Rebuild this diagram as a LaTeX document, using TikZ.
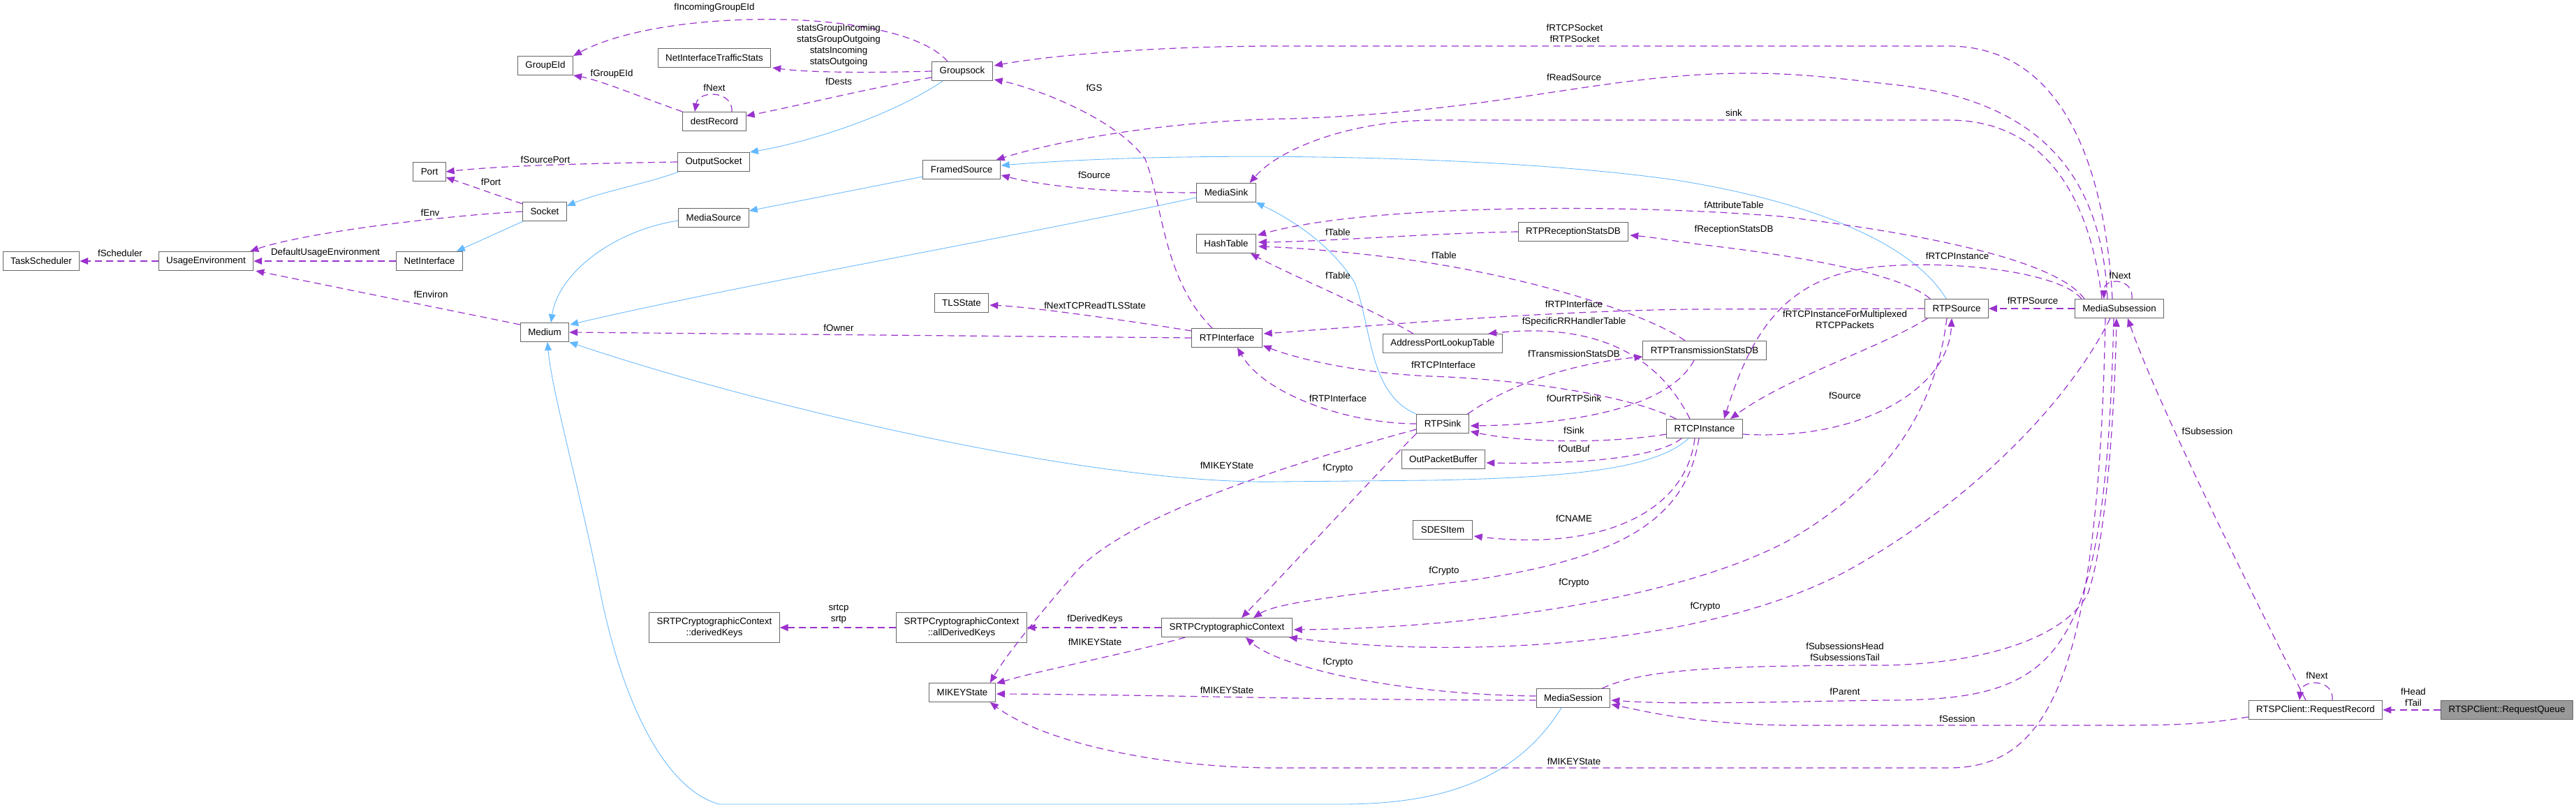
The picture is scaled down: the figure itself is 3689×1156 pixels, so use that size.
\documentclass[tikz,border=0pt]{standalone}
\usepackage{fontspec}
\setmainfont{Liberation Sans}
\usepackage{tikz}
\usetikzlibrary{arrows.meta,calc}
\definecolor{boxline}{RGB}{102,102,102}
\definecolor{usecol}{RGB}{154,50,205}
\definecolor{isacol}{RGB}{99,184,255}
\definecolor{focusfill}{RGB}{153,153,153}

\begin{document}
\begin{tikzpicture}[
  x=0.025cm,y=-0.025cm,
  cls/.style={draw=boxline,fill=white,line width=0.7pt,minimum height=19.2pt,inner xsep=7.8pt,inner ysep=2pt,font=\fontsize{9.5}{11.4}\selectfont,text=black,align=center},
  cls2/.style={cls,minimum height=29.9pt},
  lbl/.style={font=\fontsize{9.5}{11.4}\selectfont,text=black,align=center,inner sep=0pt,yshift=1.2pt},
  uses/.style={draw=usecol,line width=0.85pt,dash pattern=on 7pt off 4.5pt,-{Triangle[length=8.5pt,width=7pt]}},
  isa/.style={draw=isacol,line width=0.6pt,-{Triangle[length=8.5pt,width=7pt]}}
]
\fill[white] (0,0) rectangle (3689,1156);
\useasboundingbox (0,0) rectangle (3689,1156);

\node[cls] (ts) at (59,374) {TaskScheduler};
\node[cls] (ue) at (295,374) {UsageEnvironment};
\node[cls] (ni) at (615,374) {NetInterface};
\node[cls] (port) at (615,246) {Port};
\node[cls] (geid) at (781,94) {GroupEId};
\node[cls] (sock) at (780,303) {Socket};
\node[cls] (med) at (780,476) {Medium};
\node[cls] (nits) at (1023,83) {NetInterfaceTrafficStats};
\node[cls] (dest) at (1023,174) {destRecord};
\node[cls] (osock) at (1022,232) {OutputSocket};
\node[cls] (msrc) at (1022,312) {MediaSource};
\node[cls2] (dkeys) at (1023,899) {SRTPCryptographicContext\\::derivedKeys};
\node[cls] (gsock) at (1378,102) {Groupsock};
\node[cls] (fsrc) at (1377,243) {FramedSource};
\node[cls] (tls) at (1377,434) {TLSState};
\node[cls2] (adk) at (1377,899) {SRTPCryptographicContext\\::allDerivedKeys};
\node[cls] (mikey) at (1378,992) {MIKEYState};
\node[cls] (msink) at (1756,276) {MediaSink};
\node[cls] (hash) at (1756,349) {HashTable};
\node[cls] (rtpif) at (1757,484) {RTPInterface};
\node[cls] (scc) at (1757,899) {SRTPCryptographicContext};
\node[cls] (aplt) at (2066,492) {AddressPortLookupTable};
\node[cls] (rsink) at (2066,607) {RTPSink};
\node[cls] (opb) at (2067,658) {OutPacketBuffer};
\node[cls] (sdes) at (2066,759) {SDESItem};
\node[cls] (rxdb) at (2253,332) {RTPReceptionStatsDB};
\node[cls] (msess) at (2253,1000) {MediaSession};
\node[cls] (txdb) at (2441,502) {RTPTransmissionStatsDB};
\node[cls] (rtcp) at (2441,614) {RTCPInstance};
\node[cls] (rsrc) at (2802,442) {RTPSource};
\node[cls] (msub) at (3035,442) {MediaSubsession};
\node[cls] (rrec) at (3316,1017) {RTSPClient::RequestRecord};
\node[cls,fill=focusfill] (rq) at (3590,1017) {RTSPClient::RequestQueue};

\draw[isa] ($(gsock.south west)+(16,0)$) .. controls (1270,170) and (1150,205) .. (osock.north east);
\draw[isa] ($(osock.south west)+(2,0)$) .. controls (930,262) and (860,275) .. ($(sock.north east)+(0,6)$);
\draw[isa] ($(sock.south west)+(1,0)$) -- ($(ni.north east)+(-9,0)$);
\draw[isa] ($(fsrc.west)+(0,10)$) -- ($(msrc.east)+(0,-10)$);
\draw[isa] ($(msrc.west)+(0,4)$) .. controls (880,330) and (800,390) .. ($(med.north)+(9,0)$);
\draw[isa] ($(msink.west)+(0,7)$) .. controls (1450,340) and (1050,410) .. ($(med.north east)+(1,3)$);
\draw[isa] (rsink.north west) .. controls (1960,565) and (1965,470) .. (1940,405) .. controls (1900,340) and (1830,305) .. (msink.south east);
\draw[isa] ($(rsrc.north west)+(31,0)$) .. controls (2740,350) and (2600,290) .. (2400,258) .. controls (2150,222) and (1700,215) .. ($(fsrc.east)+(1,-6)$);
\draw[isa] ($(rtcp.south west)+(32,0)$) .. controls (2370,672) and (2250,684) .. (2050,688) -- (1830,690) .. controls (1550,695) and (1050,570) .. (med.south east);
\draw[isa] ($(msess.south)+(-17,0)$) .. controls (2170,1120) and (2060,1152) .. (1920,1152) -- (1030,1152) .. controls (950,1130) and (890,1000) .. (860,850) .. controls (830,700) and (790,560) .. ($(med.south)+(4,0)$);

\draw[uses] ($(gsock.north)+(-21,0)$) .. controls (1290,10) and (950,10) .. (geid.north east);
\node[lbl] (l01) at (1023,13) {fIncomingGroupEId};
\draw[uses] (gsock.west) .. controls (1220,105) and (1150,103) .. ($(nits.south east)+(2,0)$);
\node[lbl] (l02) at (1201,67) {statsGroupIncoming\\statsGroupOutgoing\\statsIncoming\\statsOutgoing};
\draw[uses] ($(gsock.west)+(0,9)$) .. controls (1250,125) and (1150,150) .. ($(dest.east)+(0,-8)$);
\node[lbl] (l03) at (1201,118) {fDests};
\draw[uses] ($(dest.north)+(25,0)$) .. controls (1050,129) and (1000,129) .. ($(dest.north)+(-28,0)$);
\node[lbl] (l04) at (1023,127) {fNext};
\draw[uses] (dest.north west) .. controls (920,140) and (860,115) .. (geid.south east);
\node[lbl] (l05) at (876,108) {fGroupEId};
\draw[uses] (osock.west) .. controls (850,234) and (720,237) .. (port.east);
\node[lbl] (l06) at (781,230) {fSourcePort};
\draw[uses] ($(sock.north west)+(0,3)$) -- ($(port.south east)+(0,-6)$);
\node[lbl] (l07) at (703,262) {fPort};
\draw[uses] (sock.west) .. controls (620,310) and (430,335) .. ($(ue.north east)+(-5,0)$);
\node[lbl] (l08) at (616,306) {fEnv};
\draw[uses] (ue.west) -- (ts.east);
\node[lbl] (l09) at (172,364) {fScheduler};
\draw[uses] (ni.west) -- (ue.east);
\node[lbl] (l10) at (466,364) {DefaultUsageEnvironment};
\draw[uses] ($(med.north west)+(0,3)$) -- ($(ue.south east)+(3,0)$);
\node[lbl] (l11) at (617,423) {fEnviron};
\draw[uses] (rtpif.west) -- (med.east);
\node[lbl] (l12) at (1201,471) {fOwner};
\draw[uses] ($(rtpif.north west)+(0,4)$) .. controls (1620,460) and (1480,440) .. ($(tls.east)+(1,3)$);
\node[lbl] (l13) at (1568,439) {fNextTCPReadTLSState};
\draw[uses] ($(rtpif.north)+(-21,0)$) .. controls (1665,400) and (1665,290) .. (1640,228) .. controls (1600,170) and (1480,125) .. ($(gsock.south east)+(2,-2)$);
\node[lbl] (l14) at (1567,127) {fGS};
\draw[uses] (msink.west) .. controls (1600,276) and (1500,268) .. ($(fsrc.east)+(1,8)$);
\node[lbl] (l15) at (1567,252) {fSource};

\draw[uses] ($(msub.north)+(-10,0)$) .. controls (3015,250) and (2960,66) .. (2790,66) -- (1830,66) .. controls (1650,66) and (1500,80) .. ($(gsock.east)+(2,-8)$);
\node[lbl] (l16) at (2255,49) {fRTCPSocket\\fRTPSocket};
\draw[uses] ($(msub.north)+(-17,0)$) .. controls (3010,250) and (2920,140) .. (2700,120) .. controls (2600,108) and (2560,105) .. (2500,105) .. controls (2300,105) and (2150,160) .. (1850,170) .. controls (1680,172) and (1520,200) .. ($(fsrc.north east)+(-6,0)$);
\node[lbl] (l17) at (2254,112) {fReadSource};
\draw[uses] ($(msub.north)+(-25,0)$) .. controls (2995,300) and (2940,172) .. (2790,172) -- (2060,172) .. controls (1930,172) and (1830,215) .. ($(msink.north east)+(-9,0)$);
\node[lbl] (l18) at (2483,163) {sink};
\draw[uses] ($(msub.north west)+(14,0)$) .. controls (2950,380) and (2800,340) .. (2550,310) .. controls (2300,290) and (1950,295) .. ($(hash.north east)+(2,2)$);
\node[lbl] (l19) at (2483,295) {fAttributeTable};
\draw[uses] (rxdb.west) .. controls (2050,334) and (1900,346) .. ($(hash.east)+(3,-2)$);
\node[lbl] (l20) at (1916,334) {fTable};
\draw[uses] ($(rsrc.north west)+(8,0)$) .. controls (2720,390) and (2560,365) .. (2450,352) .. controls (2400,346) and (2370,340) .. ($(rxdb.east)+(2,5)$);
\node[lbl] (l21) at (2483,331) {fReceptionStatsDB};
\draw[uses] ($(txdb.north)+(-28,0)$) .. controls (2360,450) and (2200,400) .. (2037,375) .. controls (1950,362) and (1860,355) .. ($(hash.east)+(3,4)$);
\node[lbl] (l22) at (2068,367) {fTable};
\draw[uses] ($(aplt.north west)+(44,0)$) .. controls (1960,440) and (1850,395) .. ($(hash.south east)+(-8,0)$);
\node[lbl] (l23) at (1916,396) {fTable};

\draw[uses] ($(rsink.north east)+(-2,0)$) .. controls (2170,545) and (2260,520) .. ($(txdb.south west)+(0,-5)$);
\node[lbl] (l24) at (2254,508) {fTransmissionStatsDB};
\draw[uses] ($(txdb.south)+(-15,0)$) .. controls (2390,585) and (2250,608) .. ($(rsink.east)+(2,3)$);
\node[lbl] (l25) at (2254,572) {fOurRTPSink};
\draw[uses] ($(rtcp.west)+(0,8)$) .. controls (2300,636) and (2180,634) .. ($(rsink.south east)+(2,-3)$);
\node[lbl] (l26) at (2254,618) {fSink};
\draw[uses] ($(rtcp.south west)+(22,0)$) .. controls (2370,658) and (2250,665) .. ($(opb.east)+(1,5)$);
\node[lbl] (l27) at (2254,644) {fOutBuf};
\draw[uses] ($(rtcp.south)+(-14,0)$) .. controls (2415,730) and (2300,790) .. ($(sdes.east)+(2,9)$);
\node[lbl] (l28) at (2254,744) {fCNAME};
\draw[uses] ($(rtcp.north west)+(14,0)$) .. controls (2330,565) and (2170,543) .. (2050,539) .. controls (1950,535) and (1860,515) .. ($(rtpif.south east)+(1,-3)$);
\node[lbl] (l29) at (2067,524) {fRTCPInterface};
\draw[uses] (rsink.west) .. controls (1930,607) and (1810,565) .. ($(rtpif.south)+(15,0)$);
\node[lbl] (l30) at (1916,572) {fRTPInterface};
\draw[uses] (rsrc.west) -- (2420,443) .. controls (2200,446) and (1950,468) .. ($(rtpif.east)+(2,-6)$);
\node[lbl] (l31) at (2254,437) {fRTPInterface};
\draw[uses] ($(rtcp.north)+(-21,0)$) .. controls (2380,520) and (2300,460) .. ($(aplt.north east)+(-21,0)$);
\node[lbl] (l32) at (2254,463) {fSpecificRRHandlerTable};
\draw[uses] ($(msub.north west)+(10,0)$) .. controls (2950,390) and (2800,372) .. (2690,382) .. controls (2560,395) and (2510,470) .. ($(rtcp.north)+(28,0)$);
\node[lbl] (l33) at (2803,368) {fRTCPInstance};
\draw[uses] ($(rsrc.south west)+(4,0)$) .. controls (2700,495) and (2560,540) .. ($(rtcp.north)+(37,0)$);
\node[lbl] (l34) at (2642,459) {fRTCPInstanceForMultiplexed\\RTCPPackets};
\draw[uses] ($(rtcp.east)+(0,8)$) .. controls (2660,632) and (2790,560) .. ($(rsrc.south)+(-7,0)$);
\node[lbl] (l35) at (2642,568) {fSource};
\draw[uses] (msub.west) -- (rsrc.east);
\node[lbl] (l36) at (2911,432) {fRTPSource};
\draw[uses] ($(msub.north)+(18,0)$) .. controls (3056,397) and (3012,397) .. ($(msub.north)+(-22,0)$);
\node[lbl] (l37) at (3036,396) {fNext};

\draw[uses] ($(rsink.south west)+(0,-6)$) .. controls (1900,650) and (1620,730) .. (1540,820) .. controls (1480,890) and (1440,940) .. ($(mikey.north east)+(-8,0)$);
\node[lbl] (l38) at (1757,668) {fMIKEYState};
\draw[uses] (rsink.south west) .. controls (1960,690) and (1860,800) .. ($(scc.north)+(21,0)$);
\node[lbl] (l39) at (1916,673) {fCrypto};
\draw[uses] ($(rtcp.south)+(-8,0)$) .. controls (2415,740) and (2330,800) .. (2100,832) .. controls (1950,850) and (1830,862) .. ($(scc.north)+(38,0)$);
\node[lbl] (l40) at (2068,820) {fCrypto};
\draw[uses] ($(rsrc.south)+(-14,0)$) .. controls (2770,600) and (2690,700) .. (2560,775) .. controls (2400,860) and (2100,900) .. ($(scc.east)+(2,3)$);
\node[lbl] (l41) at (2254,837) {fCrypto};
\draw[uses] ($(msub.south)+(-13,0)$) .. controls (2960,580) and (2820,720) .. (2650,815) .. controls (2450,925) and (2100,945) .. ($(scc.south east)+(-5,0)$);
\node[lbl] (l42) at (2442,871) {fCrypto};
\draw[uses] ($(msess.west)+(0,-3)$) .. controls (2000,995) and (1830,955) .. ($(scc.south)+(27,0)$);
\node[lbl] (l43) at (1916,951) {fCrypto};
\draw[uses] ($(msess.west)+(0,3)$) .. controls (1900,1003) and (1650,995) .. ($(mikey.east)+(1,2)$);
\node[lbl] (l44) at (1757,990) {fMIKEYState};
\draw[uses] ($(scc.south west)+(34,0)$) .. controls (1620,935) and (1490,960) .. ($(mikey.north east)+(1,1)$);
\node[lbl] (l45) at (1568,921) {fMIKEYState};
\draw[uses] (scc.west) -- (adk.east);
\node[lbl] (l46) at (1568,889) {fDerivedKeys};
\draw[uses] (adk.west) -- (dkeys.east);
\node[lbl] (l47) at (1201,881) {srtcp\\srtp};
\draw[uses] ($(msub.south)+(-20,0)$) .. controls (3005,980) and (2930,1100) .. (2790,1100) -- (1830,1100) .. controls (1650,1100) and (1490,1060) .. ($(mikey.south east)+(-8,0)$);
\node[lbl] (l48) at (2254,1092) {fMIKEYState};
\draw[uses] ($(msub.south)+(-8,0)$) .. controls (3015,950) and (2950,1003) .. (2700,1003) .. controls (2550,1005) and (2400,1010) .. ($(msess.east)+(1,3)$);
\node[lbl] (l49) at (2642,992) {fParent};
\draw[uses] ($(msess.north east)+(-12,0)$) .. controls (2350,960) and (2450,953) .. (2700,953) .. controls (2850,950) and (2960,910) .. (2990,850) .. controls (3015,780) and (3028,600) .. ($(msub.south)+(-4,0)$);
\node[lbl] (l50) at (2642,935) {fSubsessionsHead\\fSubsessionsTail};
\draw[uses] ($(rrec.west)+(0,10)$) .. controls (3150,1039) and (3100,1039) .. (3000,1039) -- (2560,1039) .. controls (2430,1037) and (2360,1020) .. ($(msess.east)+(1,9)$);
\node[lbl] (l51) at (2803,1031) {fSession};
\draw[uses] ($(rrec.north)+(-14,0)$) .. controls (3230,860) and (3090,580) .. ($(msub.south)+(12,0)$);
\node[lbl] (l52) at (3161,619) {fSubsession};
\draw[uses] ($(rrec.north)+(24,0)$) .. controls (3343,972) and (3296,972) .. ($(rrec.north)+(-23,0)$);
\node[lbl] (l53) at (3318,969) {fNext};
\draw[uses] (rq.west) -- (rrec.east);
\node[lbl] (l54) at (3456,1000) {fHead\\fTail};
\end{tikzpicture}
\end{document}
